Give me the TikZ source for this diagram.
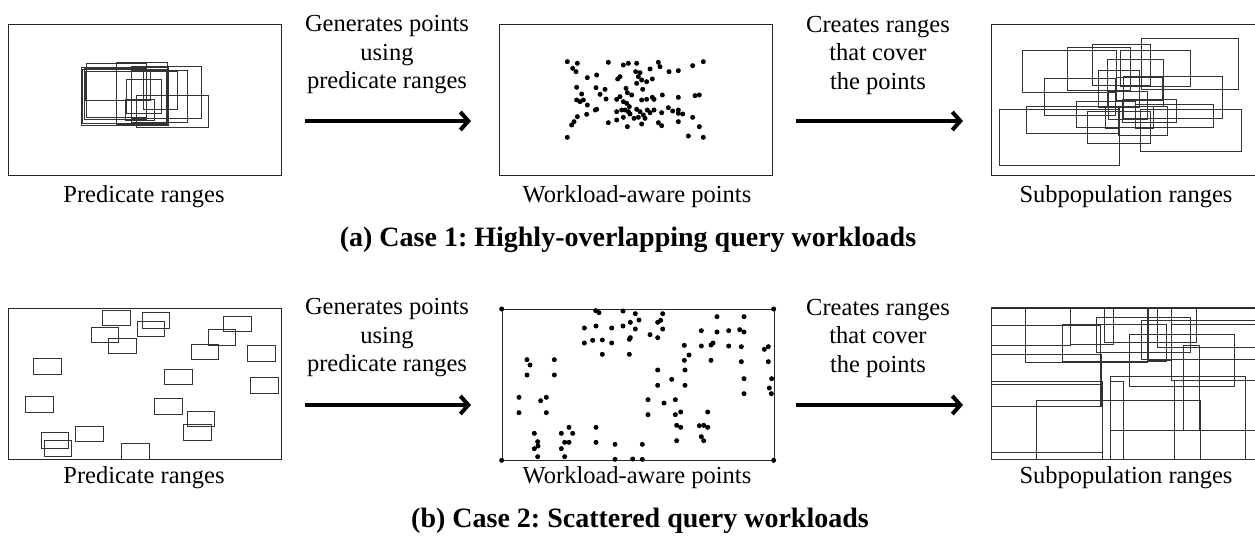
\documentclass[tikz,border=0pt]{standalone}
\usepackage{fontspec}
\setmainfont{Liberation Serif}
\usetikzlibrary{arrows.meta}
\frenchspacing
\begin{document}
\begin{tikzpicture}[x=1pt,y=-1pt,
  panel/.style={draw=black!85, line width=1.1pt, anchor=north west, inner sep=0pt, minimum width=273pt, minimum height=151pt},
  rng/.style={draw=black!80, line width=0.9pt},
  lab/.style={font=\fontsize{24.5}{28.5}\selectfont, inner sep=0pt, align=center},
  captext/.style={font=\fontsize{28}{32}\selectfont\bfseries, inner sep=0pt},
  flow/.style={line width=4pt, -{Straight Barb[length=8pt,width=18pt]}},
]
\useasboundingbox (0,0) rectangle (1255,537);

% ---------------- Row (a) ----------------
\node[panel] (pa1) at (8,24) {};
\foreach \a/\b/\c/\d in {243/202/505/375, 259/189/440/352, 248/208/500/370, 257/215/452/300,
  350/186/502/372, 395/198/605/355, 395/210/562/367, 430/215/533/328, 378/237/483/340,
  375/298/462/360, 408/285/626/382, 252/205/440/358}
  \draw[rng] ({\a/3},{\b/3}) rectangle ({\c/3},{\d/3});

\node[panel] (pa2) at (499,24) {};
\foreach \a/\b in {232/185,262/190,248/205,258/215,355/187,400/195,415/190,440/190,505/187,510/200,
  480/207,437/215,450/218,445/230,455/240,470/245,487/237,440/250,383/237,390/230,292/233,320/225,
  537/215,565/212,608/197,640/185,260/262,318/263,345/268,275/282,330/283,408/265,412/278,425/285,
  458/268,260/300,280/300,292/315,270/305,348/297,380/298,390/290,400/305,410/310,418/320,455/300,
  470/298,487/292,492/298,517/285,565/292,615/287,628/285,320/328,316/330,380/335,395/330,405/330,
  415/335,420/342,440/328,450/335,460/345,445/352,465/355,480/338,492/330,515/338,535/323,548/333,
  565/330,565/340,578/342,290/343,262/350,252/365,245/375,355/368,380/360,400/352,412/380,455/372,
  505/368,515/377,565/365,608/352,628/380,232/412,595/408,640/412,472/330,432/355}
  \fill ({490+\a/3},{\b/3}) circle[radius=2.5pt];

\begin{scope}
\clip (985,15) rectangle (1255,185);
\node[panel] (pa3) at (991,24) {};
\foreach \a/\b/\c/\d in {128/152/408/277, 263/143/452/270, 337/133/512/255, 483/115/775/268,
  422/150/630/258, 383/178/550/320, 355/212/477/322, 192/234/407/345, 430/230/728/355,
  290/303/466/382, 139/318/418/400, 57/328/418/497, 323/333/510/430, 375/320/418/385,
  385/275/502/358, 428/297/588/368, 467/313/700/382, 415/320/562/405, 480/328/785/455,
  467/318/521/385, 408/232/548/300}
  \draw[rng] ({980+\a/3},{\b/3}) rectangle ({980+\c/3},{\d/3});
\end{scope}

\coordinate (a1s) at (305,121); \coordinate (a1e) at (471,121);
\coordinate (a2s) at (796,121); \coordinate (a2e) at (963,121);
\draw[flow] (a1s) -- (a1e);
\draw[flow] (a2s) -- (a2e);
\node[lab] (ta1) at (387,55) {Generates points\\using\\predicate ranges};
\node[lab] (ta2) at (878,55) {Creates ranges\\that cover\\the points};

\node[lab] (la1) at (144,197) {Predicate ranges};
\node[lab] (la2) at (637,197) {Workload-aware points};
\node[lab] (la3) at (1126,197) {Subpopulation ranges};
\node[captext] (capa) at (628,240) {(a) Case 1: Highly-overlapping query workloads};

% ---------------- Row (b) ----------------
\node[panel] (pb1) at (8,308) {};
\foreach \a/\b/\c/\d in {307/150/390/196, 427/158/508/204, 412/184/494/230, 273/201/355/247,
  326/235/409/281, 670/168/753/214, 625/209/707/256, 573/253/656/298, 743/257/826/303,
  101/296/184/343, 493/327/576/373, 752/353/835/399, 77/409/160/456, 463/415/546/462,
  562/454/644/499, 550/493/633/540, 226/499/309/545, 123/518/206/564, 132/542/214/589,
  364/550/447/597}
  \draw[rng] ({\a/3},{260+\b/3}) rectangle ({\c/3},{260+\d/3});

\node[panel, minimum width=272pt] (pb2) at (502,309) {};
\foreach \a/\b in {35/147,851/147,35/601,851/601,
  317/152,327/158,399/153,436/161,518/161,447/180,421/187,512/181,503/187,283/204,318/198,365/204,
  399/198,436/207,518/207,480/224,503/233,283/249,308/241,337/240,365/249,418/238,421/233,337/283,
  418/283,681/170,762/170,634/212,681/216,716/212,749/209,762/216,634/258,663/255,669/249,716/258,
  754/260,583/256,597/285,583/301,663/301,754/305,823/268,835/260,835/305,845/356,762/356,838/384,
  844/401,762/401,111/299,120/315,111/345,193/299,193/345,503/330,585/330,545/358,503/376,585/376,
  87/412,87/458,152/422,169/412,169/458,474/419,474/464,522/429,556/419,556/464,572/456,560/496,
  572/502,560/542,653/456,628/497,641/496,653/502,634/530,641/542,133/520,143/545,144/558,133/566,
  143/590,214/520,237/502,248/520,237/547,224/547,214/566,224/590,318/502,318/547,375/553,
  375/598,428/597,457/553,457/598}
  \fill ({490+\a/3},{260+\b/3}) circle[radius=2.5pt];

\begin{scope}
\clip (985,300) rectangle (1255,470);
\node[panel] (pb3) at (991,308) {};
\foreach \a/\b/\c/\d in {136/143/503/307, 33/197/360/440, 270/143/400/252, 247/192/560/305,
  374/143/650/247, 349/173/631/277, 484/182/830/298, 533/143/830/262, 449/222/762/380,
  574/192/830/362, 610/257/658/510, 392/350/797/597, 584/360/830/597, 33/283/364/440,
  33/364/367/597, 170/420/662/597, 33/372/367/577, 390/365/430/597, 33/143/270/255,
  392/510/830/597, 504/143/573/300}
  \draw[rng] ({980+\a/3},{260+\b/3}) rectangle ({980+\c/3},{260+\d/3});
\end{scope}

\coordinate (b1s) at (305,405); \coordinate (b1e) at (471,405);
\coordinate (b2s) at (796,405); \coordinate (b2e) at (963,405);
\draw[flow] (b1s) -- (b1e);
\draw[flow] (b2s) -- (b2e);
\node[lab] (tb1) at (387,338) {Generates points\\using\\predicate ranges};
\node[lab] (tb2) at (878,338) {Creates ranges\\that cover\\the points};

\node[lab] (lb1) at (144,478) {Predicate ranges};
\node[lab] (lb2) at (637,478) {Workload-aware points};
\node[lab] (lb3) at (1126,478) {Subpopulation ranges};
\node[captext] (capb) at (640,521) {(b) Case 2: Scattered query workloads};
\end{tikzpicture}
\end{document}
